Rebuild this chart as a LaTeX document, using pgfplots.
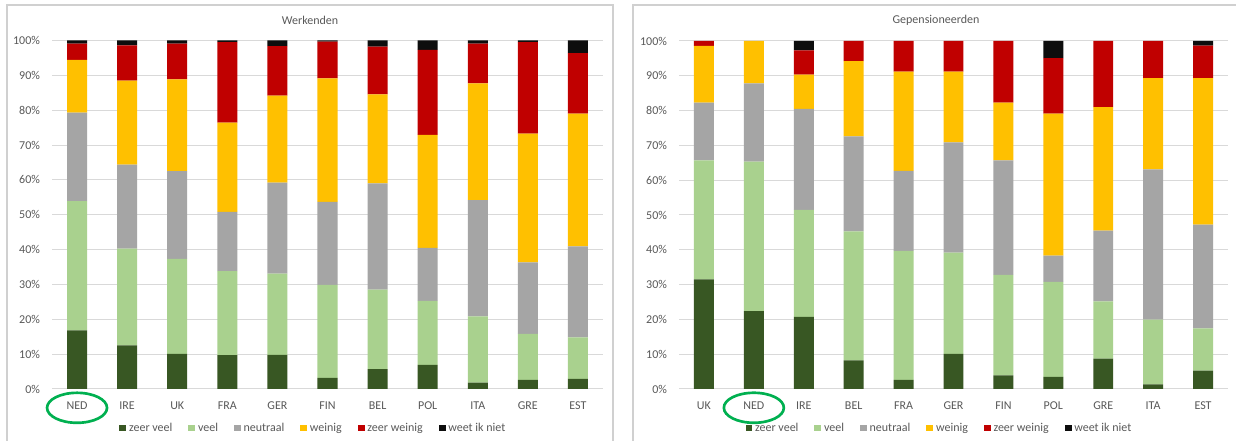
\documentclass[border=0pt]{standalone}
\usepackage{pgfplots}
\pgfplotsset{compat=1.18}
\usepackage{pgfplotstable}
\usepackage{fontspec}
\setmainfont{Carlito}
\definecolor{czv}{HTML}{385723}
\definecolor{cv}{HTML}{A9D18E}
\definecolor{cneu}{HTML}{A5A5A5}
\definecolor{cwei}{HTML}{FFC000}
\definecolor{czw}{HTML}{C00000}
\definecolor{cwn}{HTML}{0D0D0D}
\definecolor{ctxt}{HTML}{595959}
\definecolor{cgrid}{HTML}{D9D9D9}
\definecolor{cframe}{HTML}{D0D0D0}
\definecolor{cell}{HTML}{00B050}

% Werkenden: NED IRE UK FRA GER FIN BEL POL ITA GRE EST
\pgfplotstableread{
x zv v n w zw wn
0 16.8 37.1 25.4 15.1 4.7 0.9
1 12.5 27.8 24.1 24.1 10.1 1.4
2 10.1 27.2 25.2 26.3 10.3 0.9
3 9.7 24.1 17.0 25.6 23.1 0.5
4 9.8 23.3 26.1 25.0 14.2 1.6
5 3.2 26.7 23.8 35.4 10.6 0.3
6 5.7 22.8 30.5 25.5 13.7 1.8
7 6.9 18.4 15.2 32.4 24.4 2.7
8 1.8 19.0 33.4 33.5 11.4 0.9
9 2.6 13.2 20.5 37.0 26.2 0.5
10 2.9 11.9 26.1 38.1 17.4 3.6
}\werk

% Gepensioneerden: UK NED IRE BEL FRA GER FIN POL GRE ITA EST
\pgfplotstableread{
x zv v n w zw wn
0 31.5 34.2 16.6 16.3 1.4 0
1 22.4 42.9 22.5 12.2 0 0
2 20.7 30.8 29.0 9.8 7.0 2.7
3 8.2 37.1 27.3 21.6 5.8 0
4 2.6 37.1 23.0 28.5 8.8 0
5 10.1 29.1 31.7 20.3 8.8 0
6 3.9 28.9 32.9 16.6 17.7 0
7 3.5 27.3 7.5 40.8 16.0 4.9
8 8.7 16.5 20.3 35.5 19.0 0
9 1.3 18.6 43.2 26.2 10.7 0
10 5.3 12.1 29.8 42.1 9.4 1.3
}\gepens

\pgfplotsset{chart/.style={
  scale only axis,
  ybar stacked, bar width=0.4,
  xmin=-0.5, xmax=10.5, ymin=0, ymax=100,
  xtick={0,...,10}, ytick={0,10,...,100},
  yticklabels={0\%,10\%,20\%,30\%,40\%,50\%,60\%,70\%,80\%,90\%,100\%},
  tick style={draw=none},
  ymajorgrids, grid style={draw=cgrid, line width=0.75pt},
  separate axis lines,
  axis x line*=bottom,
  axis y line*=left,
  x axis line style={draw=cgrid, line width=0.75pt, -},
  y axis line style={draw=none},
  tick label style={font=\fontsize{9}{11}\selectfont, text=ctxt},
  xticklabel style={yshift=-6pt},
  yticklabel style={xshift=-5.5pt},
  clip=false,
  legend columns=6,
  legend style={draw=none, fill=none, font=\fontsize{9}{11}\selectfont, text=ctxt,
    at={(axis description cs:0.475,-0.112)}, anchor=center,
    /tikz/every even column/.append style={column sep=10pt}},
  legend image code/.code={\fill[##1] (0pt,-2.6pt) rectangle (5.2pt,2.6pt);},
  every axis plot/.append style={draw=none},
}}

\begin{document}
\begin{tikzpicture}
\useasboundingbox (0,0) rectangle (927pt,330.75pt);
\fill[white] (0,0) rectangle (927pt,330.75pt);
\draw[cframe, line width=1.1pt] (5.25pt,0pt) -- (5.25pt,327pt) -- (459.75pt,327pt) -- (459.75pt,0pt);
\draw[cframe, line width=1.1pt] (474.75pt,0pt) -- (474.75pt,327pt) -- (927pt,327pt);
\node[font=\fontsize{9}{11}\selectfont, text=ctxt] at (232.5pt,315.75pt) {Werkenden};
\node[font=\fontsize{9}{11}\selectfont, text=ctxt] at (702pt,315.75pt) {Gepensioneerden};

\begin{axis}[chart, at={(39pt,39pt)}, anchor=south west, width=413.25pt, height=261.4pt,
  xticklabels={NED,IRE,UK,FRA,GER,FIN,BEL,POL,ITA,GRE,EST}]
\addplot[fill=czv] table[x=x,y=zv]{\werk};
\addplot[fill=cv] table[x=x,y=v]{\werk};
\addplot[fill=cneu] table[x=x,y=n]{\werk};
\addplot[fill=cwei] table[x=x,y=w]{\werk};
\addplot[fill=czw] table[x=x,y=zw]{\werk};
\addplot[fill=cwn] table[x=x,y=wn]{\werk};
\legend{zeer veel,veel,neutraal,weinig,zeer weinig,weet ik niet}
\draw[cell, line width=2pt] (axis cs:0,-5.4) ellipse [x radius=22.5pt, y radius=11.25pt];
\end{axis}

\begin{axis}[chart, at={(509.25pt,39pt)}, anchor=south west, width=411.75pt, height=261pt,
  xticklabels={UK,NED,IRE,BEL,FRA,GER,FIN,POL,GRE,ITA,EST}]
\addplot[fill=czv] table[x=x,y=zv]{\gepens};
\addplot[fill=cv] table[x=x,y=v]{\gepens};
\addplot[fill=cneu] table[x=x,y=n]{\gepens};
\addplot[fill=cwei] table[x=x,y=w]{\gepens};
\addplot[fill=czw] table[x=x,y=zw]{\gepens};
\addplot[fill=cwn] table[x=x,y=wn]{\gepens};
\legend{zeer veel,veel,neutraal,weinig,zeer weinig,weet ik niet}
\draw[cell, line width=2pt] (axis cs:1,-5.4) ellipse [x radius=22.5pt, y radius=11.25pt];
\end{axis}
\end{tikzpicture}
\end{document}
